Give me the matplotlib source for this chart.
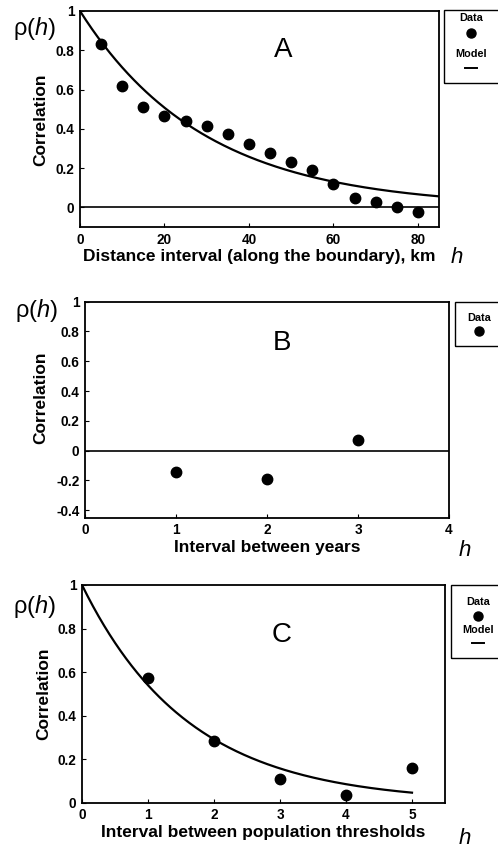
import numpy as np
import matplotlib
matplotlib.use("Agg")
import matplotlib.pyplot as plt
from matplotlib.patches import Rectangle

plt.rcParams['font.family'] = ['Liberation Sans', 'DejaVu Sans']
plt.rcParams['mathtext.fontset'] = 'custom'
plt.rcParams['mathtext.it'] = 'Liberation Sans:italic'
plt.rcParams['mathtext.rm'] = 'Liberation Sans'

# Panel A data
a_h = [5, 10, 15, 20, 25, 30, 35, 40, 45, 50, 55, 60, 65, 70, 75, 80]
a_rho = [0.83, 0.617, 0.51, 0.464, 0.44, 0.415, 0.372, 0.325, 0.277, 0.23, 0.19, 0.119, 0.047, 0.029, 0.0, -0.026]
a_range = 29.5  # model exp(-h/a)
a_xmax = 85

# Panel B data
b_h = [1, 2, 3]
b_rho = [-0.14, -0.187, 0.071]

# Panel C data
c_h = [1, 2, 3, 4, 5]
c_rho = [0.572, 0.281, 0.109, 0.035, 0.158]
c_range = 1.62
c_xmax = 5

W, H = 498, 852
fig = plt.figure(figsize=(W / 100, H / 100), dpi=100)

TICK_FS = 9.8
LAB_FS = 12.5


def fx(px):
    return px / W


def fy(py):
    return 1 - py / H


def make_axes(l, t, r, b):
    ax = fig.add_axes([fx(l), fy(b), fx(r) - fx(l), fy(t) - fy(b)])
    for s in ax.spines.values():
        s.set_linewidth(1.3)
    ax.tick_params(direction='in', length=3, width=0.8, pad=4)
    return ax


def style_ticks(ax, xt, xl, yt, yl):
    ax.set_xticks(xt)
    ax.set_xticklabels(xl, fontweight='bold', fontsize=TICK_FS)
    ax.set_yticks(yt)
    ax.set_yticklabels(yl, fontweight='bold', fontsize=TICK_FS)


def legend_box(l, t, b):
    fig.patches.append(Rectangle((fx(l), fy(b)), fx(510) - fx(l), fy(t) - fy(b),
                                 transform=fig.transFigure, fill=False,
                                 edgecolor='black', linewidth=1.0, clip_on=False))


def rho_label(x, y):
    fig.text(fx(x), fy(y), r'ρ($\mathit{h}$)', fontsize=17, ha='left', va='center')


def h_label(x, y):
    fig.text(fx(x), fy(y), r'$\mathit{h}$', fontsize=16, ha='center', va='center')


def ylab(x, y):
    fig.text(fx(x), fy(y), 'Correlation', rotation=90, fontsize=LAB_FS,
             fontweight='bold', ha='center', va='center')

ms = 7.5

# ---------- Panel A ----------
axA = make_axes(80, 11, 439, 227)
axA.set_xlim(0, a_xmax)
axA.set_ylim(-0.1, 1.0)
hh = np.linspace(0, a_xmax, 300)
axA.plot(hh, np.exp(-hh / a_range), color='black', lw=1.6)
axA.axhline(0, color='black', lw=1.2)
axA.plot(a_h, a_rho, 'o', color='black', ms=ms)
style_ticks(axA, [0, 20, 40, 60, 80], ['0', '20', '40', '60', '80'],
            [0, 0.2, 0.4, 0.6, 0.8, 1.0], ['0', '0.2', '0.4', '0.6', '0.8', '1'])
axA.set_xlabel('Distance interval (along the boundary), km', fontsize=LAB_FS,
               fontweight='bold', labelpad=2)
axA.text(48, 0.80, 'A', fontsize=20, ha='center', va='center')
ylab(41, 120)
rho_label(13, 28)
h_label(457, 257)
legend_box(444, 10, 83)
fig.text(fx(471), fy(18), 'Data', fontsize=7.8, fontweight='bold', ha='center', va='center')
fig.lines.append(plt.Line2D([fx(471)], [fy(33)], marker='o', color='black', ms=6.5,
                            transform=fig.transFigure))
fig.text(fx(471), fy(54), 'Model', fontsize=7.8, fontweight='bold', ha='center', va='center')
fig.lines.append(plt.Line2D([fx(465), fx(477)], [fy(68), fy(68)], color='black', lw=1.4,
                            transform=fig.transFigure))

# ---------- Panel B ----------
axB = make_axes(85, 301.7, 449, 517.7)
axB.set_xlim(0, 4)
axB.set_ylim(-0.45, 1.0)
axB.axhline(0, color='black', lw=1.2)
axB.plot(b_h, b_rho, 'o', color='black', ms=ms)
style_ticks(axB, [0, 1, 2, 3, 4], ['0', '1', '2', '3', '4'],
            [-0.4, -0.2, 0, 0.2, 0.4, 0.6, 0.8, 1.0],
            ['-0.4', '-0.2', '0', '0.2', '0.4', '0.6', '0.8', '1'])
axB.set_xlabel('Interval between years', fontsize=LAB_FS, fontweight='bold', labelpad=2)
axB.text(2.17, 0.72, 'B', fontsize=20, ha='center', va='center')
ylab(41, 398)
rho_label(15, 311)
h_label(465, 551)
legend_box(455, 302, 346)
fig.text(fx(479), fy(318), 'Data', fontsize=7.8, fontweight='bold', ha='center', va='center')
fig.lines.append(plt.Line2D([fx(479)], [fy(331)], marker='o', color='black', ms=6.5,
                            transform=fig.transFigure))

# ---------- Panel C ----------
axC = make_axes(82, 585, 445, 802.6)
axC.set_xlim(0, 5.5)
axC.set_ylim(0, 1.0)
hc = np.linspace(0, c_xmax, 300)
axC.plot(hc, np.exp(-hc / c_range), color='black', lw=1.6)
axC.plot(c_h, c_rho, 'o', color='black', ms=ms)
style_ticks(axC, [0, 1, 2, 3, 4, 5], ['0', '1', '2', '3', '4', '5'],
            [0, 0.2, 0.4, 0.6, 0.8, 1.0], ['0', '0.2', '0.4', '0.6', '0.8', '1'])
axC.set_xlabel('Interval between population thresholds', fontsize=LAB_FS,
               fontweight='bold', labelpad=2)
axC.text(3.03, 0.77, 'C', fontsize=20, ha='center', va='center')
ylab(44, 694)
rho_label(13, 607)
h_label(465, 838)
legend_box(451, 585, 658)
fig.text(fx(478), fy(602), 'Data', fontsize=7.8, fontweight='bold', ha='center', va='center')
fig.lines.append(plt.Line2D([fx(478)], [fy(616)], marker='o', color='black', ms=6.5,
                            transform=fig.transFigure))
fig.text(fx(478), fy(630), 'Model', fontsize=7.8, fontweight='bold', ha='center', va='center')
fig.lines.append(plt.Line2D([fx(472), fx(484)], [fy(643), fy(643)], color='black', lw=1.4,
                            transform=fig.transFigure))

fig.savefig('out.png', dpi=100)
